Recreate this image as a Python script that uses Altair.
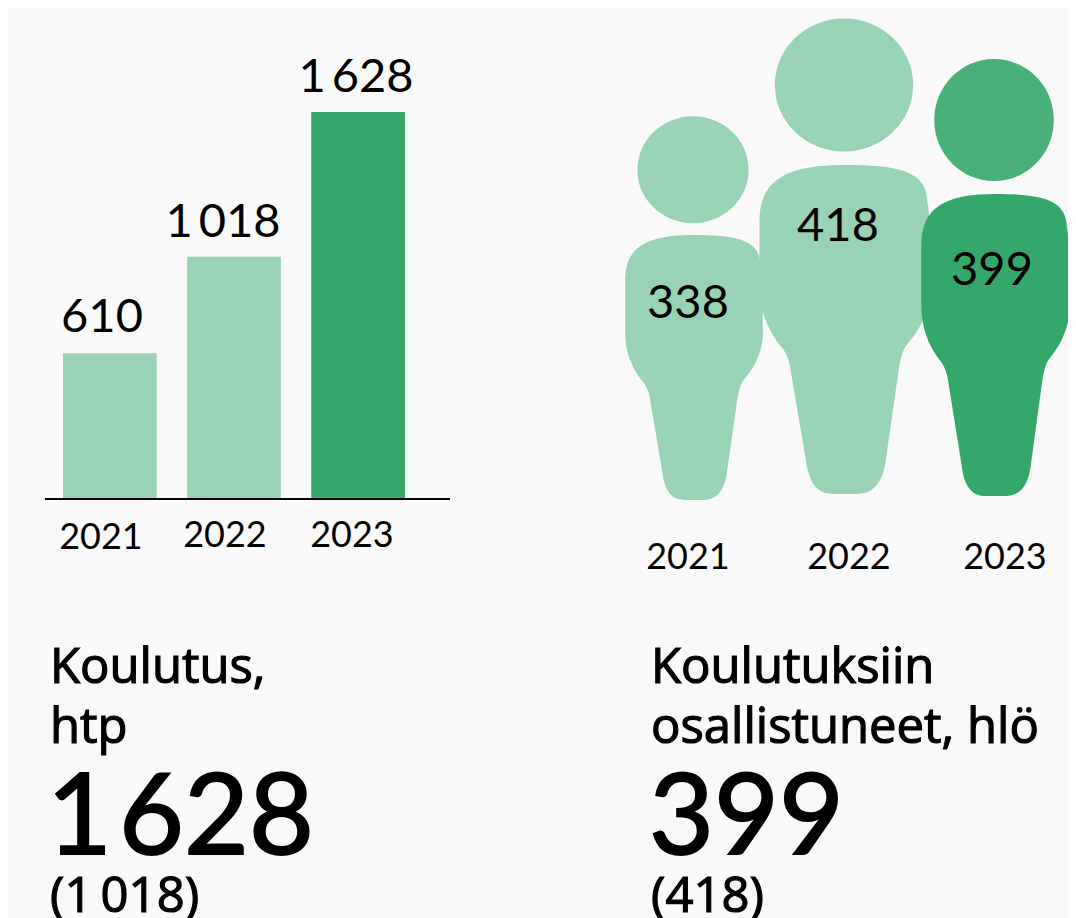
import altair as alt
import pandas as pd

# ---- chart values ----
years = ["2021", "2022", "2023"]
training_days = [610, 1018, 1628]
participants = [338, 418, 399]
training_labels = ["610", "1\u2009018", "1\u2009628"]
participant_labels = ["338", "418", "399"]

# ---- palette / page ----
BG = "#f9f9f9"
LIGHT = "#98d3b6"
DARK = "#34a86a"
DARK_HEAD = "#49b079"
FONT = "Lato"
HEAD_FONT = "Open Sans"
OX, OY = 8, 8  # page margin


def body_path(xf):
    """Silhouette in unit coordinates (y from -1 to 1, x scaled by xf)."""
    p = [
        "M", 0, -1,
        "C", .30, -1, .50, -.97, .50, -.78,
        "C", .52, -.70, .52, -.50, .52, -.26,
        "C", .52, -.10, .44, .02, .37, .10,
        "C", .35, .13, .34, .17, .33, .22,
        "L", .25, .78,
        "C", .23, .96, .15, 1, .07, 1,
        "L", -.07, 1,
        "C", -.15, 1, -.22, .96, -.24, .78,
        "L", -.33, .25,
        "C", -.34, .17, -.37, .12, -.40, .09,
        "C", -.47, .0, -.52, -.12, -.52, -.26,
        "L", -.52, -.66,
        "C", -.52, -.92, -.34, -1, 0, -1, "Z",
    ]
    out, is_x = [], True
    for t in p:
        if isinstance(t, str):
            out.append(t)
            is_x = True
        else:
            out.append(f"{t * xf:.4f}" if is_x else f"{t:.4f}")
            is_x = not is_x
    return " ".join(out)


def head_path(rx):
    return f"M {-rx} 0 A {rx} 1 0 1 0 {rx} 0 A {rx} 1 0 1 0 {-rx} 0 Z"


# ---- bars ----
bars_df = pd.DataFrame({"year": years, "value": training_days})
bars = alt.Chart(bars_df).mark_bar(cornerRadius=0).encode(
    x=alt.X("year:N", axis=None,
            scale=alt.Scale(domain=years, range=[63 - OX, 405 - OX],
                            paddingInner=0.245, paddingOuter=0)),
    y=alt.Y("value:Q", axis=None,
            scale=alt.Scale(domain=[0, max(training_days)], range=[498 - OY, 112 - OY])),
    color=alt.Color("year:N", legend=None,
                    scale=alt.Scale(domain=years, range=[LIGHT, LIGHT, DARK])),
)

baseline = alt.Chart(pd.DataFrame({"a": [0]})).mark_rule(color="#000000", strokeWidth=2).encode(
    x=alt.value(45 - OX), x2=alt.value(450 - OX), y=alt.value(499 - OY)
)

# ---- people ----
body_layout = {"cx": [694, 845, 995.5], "cy": [367.5, 329.5, 345], "h": [265, 329, 302],
               "xf": [1.0, 1.0, 0.945]}
head_layout = {"cx": [693, 844, 994], "cy": [169.7, 85, 120], "h": [107, 133, 122],
               "rx": [1.04, 1.04, 0.98]}

people_rows = []
for i, y in enumerate(years):
    people_rows.append({
        "year": y, "part": "head", "n": participants[i],
        "px": head_layout["cx"][i] - OX, "py": head_layout["cy"][i] - OY,
        "size": head_layout["h"][i] ** 2, "shape": head_path(head_layout["rx"][i]),
        "fill": DARK_HEAD if i == 2 else LIGHT, "order": i,
    })
    people_rows.append({
        "year": y, "part": "body", "n": participants[i],
        "px": body_layout["cx"][i] - OX, "py": body_layout["cy"][i] - OY,
        "size": body_layout["h"][i] ** 2, "shape": body_path(body_layout["xf"][i]),
        "fill": DARK if i == 2 else LIGHT, "order": i,
    })
people_df = pd.DataFrame(people_rows)

people = alt.Chart(people_df).mark_point(filled=True, opacity=1, strokeWidth=0).encode(
    x=alt.X("px:Q", axis=None, scale=None),
    y=alt.Y("py:Q", axis=None, scale=None),
    size=alt.Size("size:Q", scale=None),
    shape=alt.Shape("shape:N", scale=None),
    color=alt.Color("fill:N", scale=None),
    order=alt.Order("order:Q"),
)

# ---- text ----
center_text = training_labels + years + participant_labels + years
center_x = [102, 223, 356, 101, 225, 352, 688, 838, 992, 688, 849, 1005]
center_y = [332, 237, 92, 549, 547, 547, 318, 241, 285, 569, 569, 569]
center_fs = [47, 47, 47, 36, 36, 36, 47, 47, 47, 36, 36, 36]
centered = pd.DataFrame({"t": center_text, "px": [v - OX for v in center_x],
                         "py": [v - OY for v in center_y], "fs": center_fs})

head_text = ["Koulutus,", "htp", "(1\u2009018)", "Koulutuksiin", "osallistuneet, hlö", "(418)"]
head_x = [50, 50, 50, 651, 651, 651]
head_y = [683, 743, 912, 683, 743, 912]
heads = pd.DataFrame({"t": head_text, "px": [v - OX for v in head_x],
                      "py": [v - OY for v in head_y]})

big_text = ["1\u200a628", participant_labels[-1]]
bigs = pd.DataFrame({"t": big_text, "px": [47 - OX, 649 - OX], "py": [854 - OY, 854 - OY]})


def text_enc():
    return dict(x=alt.X("px:Q", axis=None, scale=None),
                y=alt.Y("py:Q", axis=None, scale=None),
                text="t:N")


center_layer = alt.Chart(centered).mark_text(font=FONT, align="center", baseline="alphabetic",
                                             color="#000000").encode(
    size=alt.Size("fs:Q", scale=None), **text_enc())
head_layer = alt.Chart(heads).mark_text(font=HEAD_FONT, align="left", baseline="alphabetic",
                                        color="#000000", fontSize=49, stroke="#000000",
                                        strokeWidth=1.2).encode(**text_enc())
big_layer = alt.Chart(bigs).mark_text(font=FONT, align="left", baseline="alphabetic",
                                      color="#000000", fontSize=112, stroke="#000000",
                                      strokeWidth=2).encode(**text_enc())

chart = alt.layer(bars, baseline, people, center_layer, head_layer, big_layer).resolve_scale(
    x="independent", y="independent", color="independent", size="independent", shape="independent"
).properties(
    width=1060, height=910, padding=0, background=BG,
    autosize=alt.AutoSizeParams(type="none", contains="padding"),
).configure_view(stroke=None)

chart.save("out.html", embed_options={"renderer": "svg", "actions": False})
